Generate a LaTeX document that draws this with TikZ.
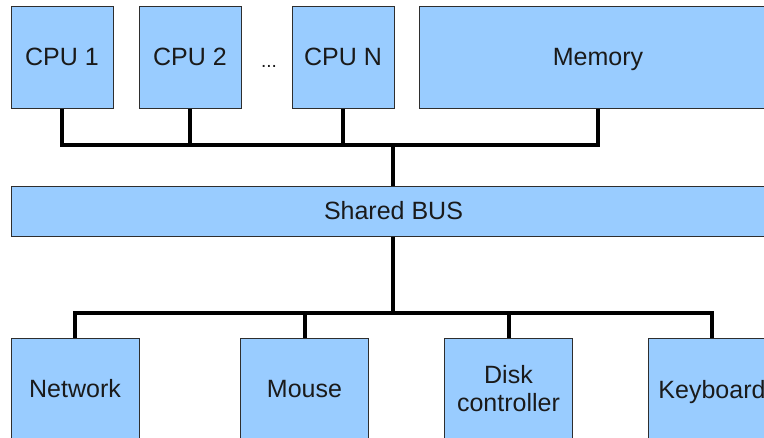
\documentclass[tikz,border=0pt]{standalone}
\usepackage{fontspec}
\setmainfont{Liberation Sans}
\definecolor{boxfill}{HTML}{99CCFF}
\definecolor{boxline}{HTML}{2E2E2E}
\definecolor{txt}{HTML}{1A1A1A}
\tikzset{
  unit/.style={draw=boxline, line width=1pt, fill=boxfill, text=txt,
    font=\fontsize{25}{28}\selectfont, inner sep=0pt, align=center},
  nodesc/.style={text depth=0pt},
  wire/.style={draw=black, line width=4pt}
}
\begin{document}
\begin{tikzpicture}[x=1pt, y=-1pt]
\useasboundingbox (0,0) rectangle (764,437);
\fill[white] (0,0) rectangle (764,437);

% processors and memory
\node[unit, minimum width=102pt, minimum height=102pt] (cpu1) at (62,57) {CPU 1};
\node[unit, minimum width=102pt, minimum height=102pt] (cpu2) at (190,57) {CPU 2};
\node[text=txt, font=\fontsize{19}{22}\selectfont] (dots) at (269,66) {...};
\node[unit, minimum width=102pt, minimum height=102pt] (cpun) at (343,57) {CPU N};
\node[unit, nodesc, minimum width=357pt, minimum height=102pt] (mem) at (598,57) {Memory};

% shared bus
\node[unit, minimum width=765pt, minimum height=50pt] (bus) at (393.5,211) {Shared BUS};

% peripherals
\node[unit, minimum width=128pt, minimum height=102pt] (net) at (75,389) {Network};
\node[unit, minimum width=128pt, minimum height=102pt] (mouse) at (304.5,389) {Mouse};
\node[unit, minimum width=128pt, minimum height=102pt] (disk) at (508.5,389) {Disk\\controller};
\node[unit, nodesc, minimum width=128pt, minimum height=102pt] (kbd) at (712,389) {Keyboard};

% junction points of the wiring
\coordinate (topj) at (393,145);
\coordinate (botj) at (393,313);

% upper wiring
\draw[wire] (cpu1.south) |- (topj);
\draw[wire] (cpu2.south) |- (topj);
\draw[wire] (cpun.south) |- (topj);
\draw[wire] (mem.south) |- (topj);
\draw[wire] (topj) -- (topj |- bus.north);

% lower wiring
\draw[wire] (topj |- bus.south) -- (botj);
\draw[wire] (net.north) |- (botj);
\draw[wire] (mouse.north) |- (botj);
\draw[wire] (disk.north) |- (botj);
\draw[wire] (kbd.north) |- (botj);
\end{tikzpicture}
\end{document}
